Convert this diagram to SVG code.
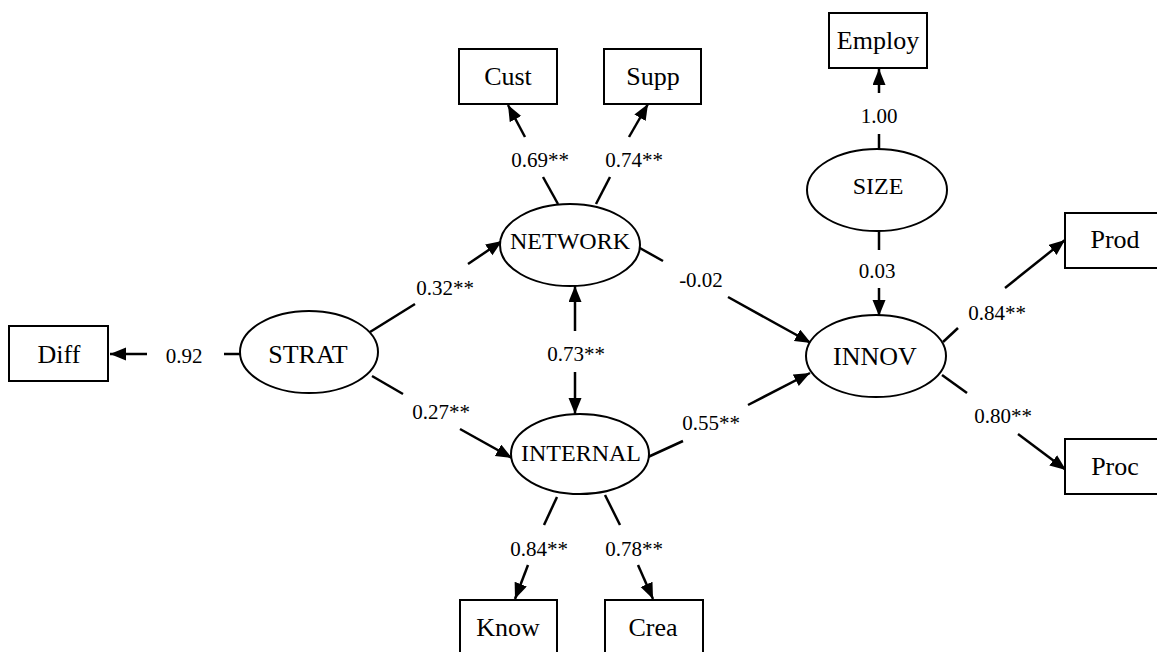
<svg xmlns="http://www.w3.org/2000/svg" width="1157" height="652" viewBox="0 0 1157 652">
<style>
.box{fill:#fff;stroke:#000;stroke-width:2}
.ell{fill:#fff;stroke:#000;stroke-width:2}
.t{font-family:"Liberation Serif","Times New Roman",serif;fill:#000;text-anchor:middle}
.nt{font-size:26px}
.et{font-size:24px}
.lb{font-size:21px}
.c{stroke:#000;stroke-width:2.5;fill:none}
.a{marker-end:url(#ah)}
</style>
<defs>
<marker id="ah" markerUnits="userSpaceOnUse" markerWidth="18" markerHeight="14" refX="16" refY="6.5" orient="auto">
<path d="M0,0 L16,6.5 L0,13 z" fill="#000"/>
</marker>
</defs>
<rect width="1157" height="652" fill="#fff"/>
<g id="connectors">
<line class="c" x1="240" y1="354" x2="224" y2="354"/>
<line class="c a" x1="147" y1="354" x2="110" y2="354"/>
<line class="c" x1="558" y1="204" x2="543" y2="177"/>
<line class="c a" x1="525" y1="137" x2="508" y2="105"/>
<line class="c" x1="596" y1="204" x2="610" y2="177"/>
<line class="c a" x1="629" y1="137" x2="648" y2="104"/>
<line class="c" x1="879" y1="149" x2="879" y2="134"/>
<line class="c a" x1="879" y1="93" x2="879" y2="69"/>
<line class="c" x1="879" y1="231" x2="879" y2="250"/>
<line class="c a" x1="879" y1="288" x2="879" y2="316"/>
<line class="c" x1="638" y1="247" x2="663" y2="261"/>
<line class="c a" x1="728" y1="297" x2="811" y2="343"/>
<line class="c" x1="370" y1="332" x2="415" y2="304"/>
<line class="c a" x1="468" y1="264" x2="502" y2="241"/>
<line class="c" x1="372" y1="376" x2="403" y2="394"/>
<line class="c a" x1="460" y1="429" x2="512" y2="458"/>
<line class="c" x1="648" y1="457" x2="683" y2="441"/>
<line class="c a" x1="748" y1="405" x2="810" y2="373"/>
<line class="c" x1="943" y1="342" x2="958" y2="328"/>
<line class="c a" x1="1005" y1="288" x2="1065" y2="240"/>
<line class="c" x1="942" y1="375" x2="967" y2="393"/>
<line class="c a" x1="1018" y1="434" x2="1066" y2="470"/>
<line class="c" x1="557" y1="497" x2="544" y2="525"/>
<line class="c a" x1="528" y1="565" x2="515" y2="599"/>
<line class="c" x1="605" y1="495" x2="620" y2="525"/>
<line class="c a" x1="638" y1="565" x2="653" y2="599"/>
<line class="c a" x1="575" y1="331" x2="575" y2="286"/>
<line class="c a" x1="575" y1="372" x2="575" y2="414"/>
</g>
<g id="labels">
<text class="t lb" x="184" y="363">0.92</text>
<text class="t lb" x="540" y="167">0.69**</text>
<text class="t lb" x="634" y="167">0.74**</text>
<text class="t lb" x="879" y="123">1.00</text>
<text class="t lb" x="877" y="278">0.03</text>
<text class="t lb" x="701" y="287">-0.02</text>
<text class="t lb" x="445" y="295">0.32**</text>
<text class="t lb" x="576" y="361">0.73**</text>
<text class="t lb" x="441" y="419">0.27**</text>
<text class="t lb" x="711" y="430">0.55**</text>
<text class="t lb" x="997" y="320">0.84**</text>
<text class="t lb" x="1003" y="423">0.80**</text>
<text class="t lb" x="539" y="556">0.84**</text>
<text class="t lb" x="634" y="556">0.78**</text>
</g>
<g id="Diff"><rect class="box" x="9" y="326" width="99" height="55"/><text class="t nt" x="59" y="363">Diff</text></g>
<g id="STRAT"><ellipse class="ell" cx="309" cy="352" rx="69" ry="41"/><text class="t nt" x="308" y="363">STRAT</text></g>
<g id="NETWORK"><ellipse class="ell" cx="570" cy="245" rx="70" ry="41"/><text class="t et" x="570" y="249">NETWORK</text></g>
<g id="INTERNAL"><ellipse class="ell" cx="580" cy="454" rx="69" ry="40"/><text class="t et" x="581" y="461">INTERNAL</text></g>
<g id="SIZE"><ellipse class="ell" cx="877" cy="190" rx="70" ry="41"/><text class="t et" x="878" y="194">SIZE</text></g>
<g id="INNOV"><ellipse class="ell" cx="876" cy="356" rx="70" ry="41"/><text class="t nt" x="875" y="365">INNOV</text></g>
<g id="Cust"><rect class="box" x="459" y="49" width="98" height="55"/><text class="t nt" x="508" y="85">Cust</text></g>
<g id="Supp"><rect class="box" x="604" y="49" width="97" height="55"/><text class="t nt" x="653" y="85">Supp</text></g>
<g id="Employ"><rect class="box" x="829" y="13" width="98" height="55"/><text class="t nt" x="878" y="49">Employ</text></g>
<g id="Prod"><rect class="box" x="1065" y="213" width="100" height="55"/><text class="t nt" x="1115" y="248">Prod</text></g>
<g id="Proc"><rect class="box" x="1065" y="439" width="100" height="55"/><text class="t nt" x="1115" y="475">Proc</text></g>
<g id="Know"><rect class="box" x="460" y="600" width="97" height="55"/><text class="t nt" x="508" y="636">Know</text></g>
<g id="Crea"><rect class="box" x="605" y="600" width="98" height="55"/><text class="t nt" x="653" y="636">Crea</text></g>
</svg>
